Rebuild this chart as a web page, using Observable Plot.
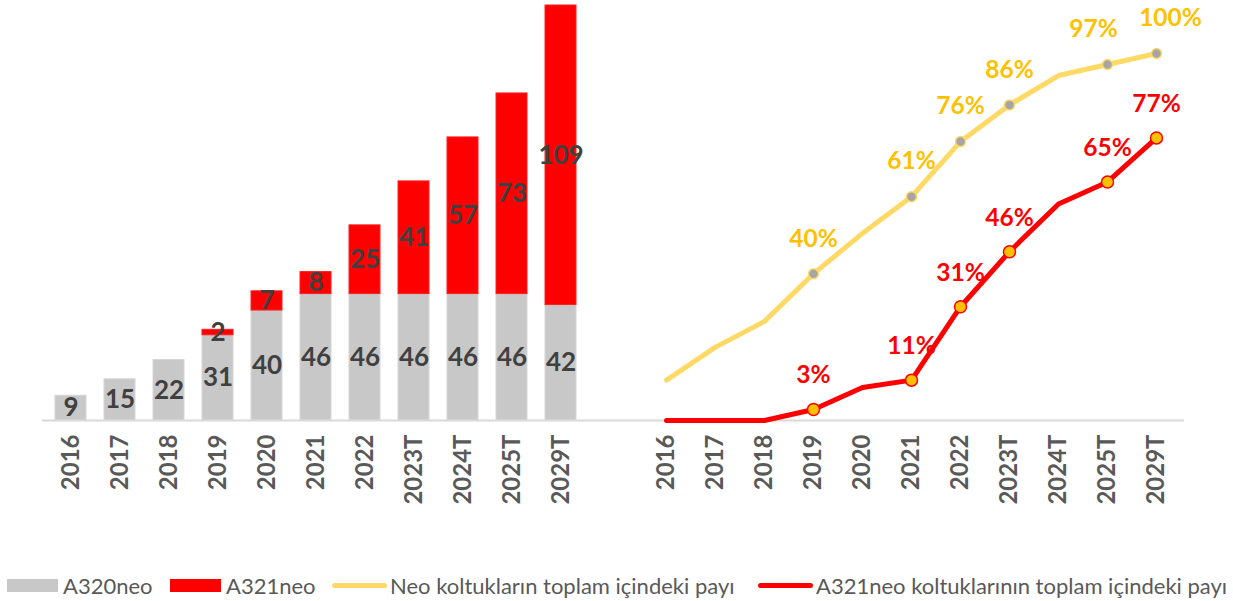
<!DOCTYPE html>
<html>
<head>
<meta charset="utf-8">
<script src="https://cdn.jsdelivr.net/npm/d3@7"></script>
<script src="https://cdn.jsdelivr.net/npm/@observablehq/plot@0.6"></script>
<style>
  body { margin: 0; background: #fff; font-family: Lato, "Open Sans", sans-serif; }
  #wrap { position: relative; width: 1233px; height: 601px; overflow: hidden; }
  #charts { display: flex; position: absolute; left: 0; top: 0; }
  #legend { position: absolute; left: 0; top: 571px; width: 1233px; height: 28px; font-family: Lato, sans-serif; font-size: 22px; color: #595959; }
  .li { position: absolute; top: 0; display: flex; align-items: center; height: 28px; white-space: nowrap; }
  .sw { display: inline-block; width: 51px; height: 13px; margin-right: 5px; }
  .ln { display: inline-block; width: 55px; height: 5px; border-radius: 3px; margin-right: 3px; }
</style>
</head>
<body>
<div id="wrap">
  <div id="charts"></div>
  <div id="legend"></div>
</div>
<script>
// ---- data ----
const years = ["2016","2017","2018","2019","2020","2021","2022","2023T","2024T","2025T","2029T"];
const a320neo = [9, 15, 22, 31, 40, 46, 46, 46, 46, 46, 42];
const a321neo = [0, 0, 0, 2, 7, 8, 25, 41, 57, 73, 109];
const neoShare = [0.11, 0.20, 0.27, 0.40, 0.51, 0.61, 0.76, 0.86, 0.94, 0.97, 1.00];
const a321Share = [0, 0, 0, 0.03, 0.09, 0.11, 0.31, 0.46, 0.59, 0.65, 0.77];
const labeledYears = ["2019","2021","2022","2023T","2025T","2029T"];
const seriesNames = ["A320neo", "A321neo"];
const lineNames = ["Neo koltukların toplam içindeki payı", "A321neo koltuklarının toplam içindeki payı"];

// ---- tables ----
const bars = [
  ...years.map((y, i) => ({year: y, series: seriesNames[0], value: a320neo[i]})),
  ...years.map((y, i) => ({year: y, series: seriesNames[1], value: a321neo[i]}))
];
const shares = years.map((y, i) => ({year: y, neo: neoShare[i], a321: a321Share[i]}));
const labeled = shares.filter(d => labeledYears.includes(d.year));
// two crowded neo labels are nudged apart in the original
const neoLeft = labeled.filter(d => d.year === "2025T");
const neoRight = labeled.filter(d => d.year === "2029T");
const neoMid = labeled.filter(d => d.year !== "2025T" && d.year !== "2029T");

const FONT = "Lato, 'Open Sans', sans-serif";
const axisOpts = {tickRotate: -90, tickSize: 0, tickPadding: 14, label: null, fontSize: 24, fontWeight: "bold", fill: "#595959"};
const pct = v => Math.round(v * 100) + "%";

const left = Plot.plot({
  width: 617, height: 530,
  marginLeft: 42, marginRight: 28, marginTop: 5, marginBottom: 110,
  style: {fontFamily: FONT, background: "transparent", overflow: "visible"},
  x: {domain: years, paddingInner: 0.36, paddingOuter: 0.18, axis: null},
  y: {domain: [0, 151], axis: null},
  color: {domain: seriesNames, range: ["#C8C8C8", "#FF0000"]},
  marks: [
    Plot.barY(bars, Plot.stackY({x: "year", y: "value", fill: "series", stroke: d => d.series === seriesNames[0] ? "#D6D6D6" : "#FF2020", strokeWidth: 1, order: null})),
    Plot.ruleY([0], {stroke: "#D9D9D9", strokeWidth: 2, insetRight: -28}),
    Plot.text(bars, Plot.stackY({x: "year", y: "value", z: "series", order: null, text: d => d.value > 0 ? String(d.value) : "", fill: "#404040", fontSize: 26, fontWeight: "bold"})),
    Plot.axisX({...axisOpts})
  ]
});

const labelStyle = {fontSize: 24.5, fontWeight: "bold"};
const right = Plot.plot({
  width: 616, height: 530,
  marginLeft: 20, marginRight: 49, marginTop: 53, marginBottom: 110,
  style: {fontFamily: FONT, background: "transparent", overflow: "visible"},
  x: {type: "point", domain: years, padding: 0.5, axis: null},
  y: {domain: [0, 1], axis: null},
  marks: [
    Plot.ruleY([0], {stroke: "#D9D9D9", strokeWidth: 2, insetLeft: -20}),
    Plot.lineY(shares, {x: "year", y: "neo", stroke: "#FFD966", strokeWidth: 5, strokeLinecap: "round", strokeLinejoin: "round"}),
    Plot.lineY(shares, {x: "year", y: "a321", stroke: "#FF0000", strokeWidth: 5, strokeLinecap: "round", strokeLinejoin: "round"}),
    Plot.dot(labeled, {x: "year", y: "neo", r: 5, fill: "#A5A5A5", stroke: "#FFD966", strokeWidth: 1.5}),
    Plot.dot(labeled, {x: "year", y: "a321", r: 6, fill: "#FFC000", stroke: "#FF0000", strokeWidth: 1.5}),
    Plot.text(neoMid, {x: "year", y: "neo", text: d => pct(d.neo), dy: -35, fill: "#FFC000", ...labelStyle}),
    Plot.text(neoLeft, {x: "year", y: "neo", text: d => pct(d.neo), dy: -35, dx: -14, fill: "#FFC000", ...labelStyle}),
    Plot.text(neoRight, {x: "year", y: "neo", text: d => pct(d.neo), dy: -35, dx: 14, fill: "#FFC000", ...labelStyle}),
    Plot.text(labeled, {x: "year", y: "a321", text: d => pct(d.a321), dy: -34, fill: "#FF0000", ...labelStyle}),
    Plot.axisX({...axisOpts})
  ]
});

document.getElementById("charts").append(left, right);

// ---- legend ----
const legendItems = [
  {label: seriesNames[0], kind: "sw", color: "#C8C8C8", left: 7},
  {label: seriesNames[1], kind: "sw", color: "#FF0000", left: 170},
  {label: lineNames[0], kind: "ln", color: "#FFD966", left: 332},
  {label: lineNames[1], kind: "ln", color: "#FF0000", left: 758}
];
const legend = document.getElementById("legend");
for (const it of legendItems) {
  const d = document.createElement("div");
  d.className = "li";
  d.style.left = it.left + "px";
  const s = document.createElement("span");
  s.className = it.kind;
  s.style.background = it.color;
  d.append(s, document.createTextNode(it.label));
  legend.append(d);
}
</script>
</body>
</html>
